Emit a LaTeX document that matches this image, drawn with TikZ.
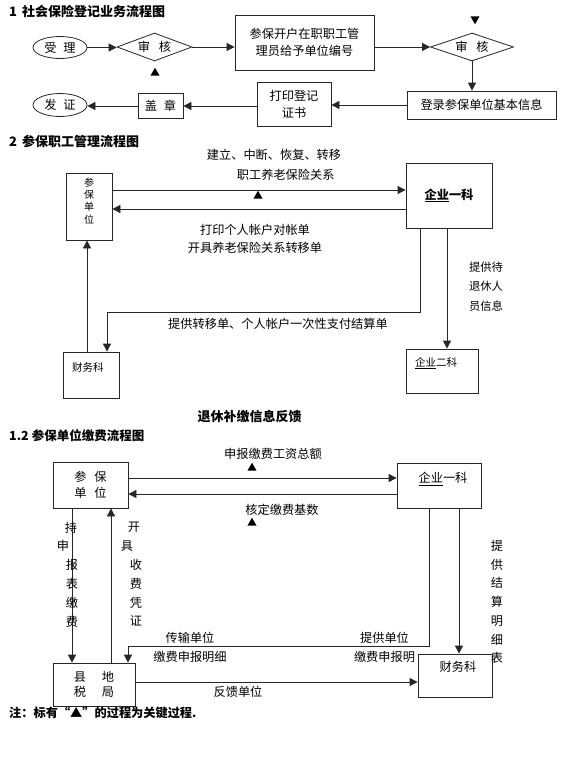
\documentclass[tikz,border=0pt]{standalone}
\usepackage{fontspec}
\setmainfont{Noto Sans CJK SC}
\usetikzlibrary{arrows.meta,shapes.geometric}
\newcommand{\myfs}[2]{\fontsize{#1}{#2}\selectfont}
\newcommand{\shl}[2]{\rlap{\hspace*{#1}#2}\phantom{#2}}
\begin{document}
\begin{tikzpicture}[x=1pt,y=-1pt,
  ln/.style={draw=black!85, line width=0.8pt},
  arr/.style={ln, -{Triangle[length=8pt,width=8pt]}},
  box/.style={draw=black!85, line width=0.8pt, inner sep=0pt, align=center, font=\myfs{12.2}{17}},
  ell/.style={ellipse, draw=black!85, line width=0.8pt, inner sep=0pt, font=\myfs{12.2}{14}},
  dia/.style={diamond, draw=black!85, line width=0.8pt, inner sep=0pt, aspect=2.7, font=\myfs{12.2}{14}},
  mk/.style={regular polygon, regular polygon sides=3, fill=black, inner sep=0pt, minimum size=10.5pt},
  mkdown/.style={mk, shape border rotate=180},
  ttl/.style={font=\bfseries\myfs{13}{16}, anchor=west, inner sep=0pt},
  lbl/.style={inner sep=0pt, align=center, font=\myfs{12.2}{19}},
  sml/.style={inner sep=0pt, align=center, font=\myfs{10.5}{12.5}}
]
\useasboundingbox[fill=white] (0,0) rectangle (567,763);

% ---------- Section 1 ----------
\node[ttl] (t1) at (9,11) {1\hspace{5pt}社会保险登记业务流程图};
\node[ell, minimum width=54pt, minimum height=22pt] (shouli) at (60,47.5) {受\hspace{7pt}理};
\node[dia, minimum width=75pt, minimum height=28pt] (sh1) at (154.5,47) {审\hspace{9pt}核};
\node[mk] (m1) at (155,73) {};
\node[box, minimum width=139pt, minimum height=55pt] (kaihu) at (304.5,42.5) {参保开户在职职工管\\理员给予单位编号};
\node[dia, minimum width=83pt, minimum height=28pt] (sh2) at (472,47) {审\hspace{9pt}核};
\node[mkdown] (m2) at (475,19) {};
\node[box, minimum width=149pt, minimum height=28pt] (denglu) at (481.5,105) {登录参保单位基本信息};
\node[box, minimum width=74pt, minimum height=44pt] (dayin) at (294,104) {打印登记\\证书};
\node[box, minimum width=45pt, minimum height=25pt] (gaizhang) at (160.5,106) {盖\hspace{7pt}章};
\node[ell, minimum width=54pt, minimum height=23pt] (fazheng) at (60,105) {发\hspace{7pt}证};

\draw[arr] (shouli.east) -- (shouli.east -| sh1.west);
\draw[arr] (sh1.east) -- (sh1.east -| kaihu.west);
\draw[arr] (sh1.east -| kaihu.east) -- (sh2.west);
\draw[arr] (sh2.south) -- (sh2.south |- denglu.north);
\draw[arr] (denglu.west) -- (denglu.west -| dayin.east);
\draw[arr] (gaizhang.east -| dayin.west) -- (gaizhang.east);
\draw[arr] (gaizhang.west) -- (gaizhang.west -| fazheng.east);

% ---------- Section 2 ----------
\node[ttl] (t2) at (9,141) {2\hspace{5pt}参保职工管理流程图};
\node[box, minimum width=46pt, minimum height=67pt] (cb2) at (89,206.5) {};
\node[sml, font=\myfs{10}{12.3}] (cb2t) at (89,201) {参\\保\\单\\位};
\node[box, minimum width=86pt, minimum height=65pt, font=\bfseries\myfs{12.2}{14}] (qy1) at (449,195.5) {\underline{企业}一科};
\coordinate (yA) at (0,190);
\coordinate (yB) at (0,209);
\draw[arr] (cb2.east |- yA) -- (qy1.west |- yA);
\draw[arr] (qy1.west |- yB) -- (cb2.east |- yB);
\node[lbl, align=left, font=\myfs{12.2}{20}] (l21) at (274,165) {建立、中断、恢复、转移\\\hspace*{30pt}职工养老保险关系};
\node[mk] (m3) at (258,196) {};
\node[lbl, font=\myfs{12.2}{18}] (l22) at (255,239) {打印个人帐户对帐单\\开具养老保险关系转移单};

\node[box, minimum width=56pt, minimum height=46pt] (caiwu2) at (91,375) {};
\node[sml, anchor=west] (caiwu2t) at (72,367) {财务科};
\node[box, minimum width=72pt, minimum height=44pt] (qy2) at (442,371) {};
\node[sml, anchor=west] (qy2t) at (415,363) {\underline{企业}二科};

\coordinate (xD) at (420,0);
\coordinate (yE) at (0,312);
\coordinate (xF) at (107,0);
\draw[arr] (qy1.south -| xD) |- (xF |- yE) -- (xF |- caiwu2.north);
\coordinate (xG) at (447,0);
\draw[arr] (qy1.south -| xG) -- (qy2.north -| xG);
\coordinate (xH) at (87,0);
\draw[arr] (caiwu2.north -| xH) -- (cb2.south -| xH);

\node[lbl, align=left, font=\myfs{11.3}{19.5}] (l23) at (486,286.5) {提供待\\退休人\\员信息};
\node[lbl] (l24) at (278,324) {提供转移单、个人帐户一次性支付结算单};

\node[lbl, font=\bfseries\myfs{13}{16}] (fk) at (249.5,417) {退休补缴信息反馈};

% ---------- Section 3 ----------
\node[ttl, font=\bfseries\myfs{12.5}{16}] (t3) at (9,436) {1.2\hspace{3pt}参保单位缴费流程图};
\node[box, minimum width=75pt, minimum height=46pt, font=\myfs{12.2}{16}] (cb3) at (90.5,485) {参\hspace{8pt}保\\单\hspace{8pt}位};
\node[box, minimum width=84pt, minimum height=45pt] (qy3) at (439,485.5) {};
\node[lbl] (qy3t) at (443,479) {\underline{企业}一科};
\coordinate (yI) at (0,478);
\coordinate (yJ) at (0,494);
\draw[arr] (cb3.east |- yI) -- (qy3.west |- yI);
\draw[arr] (qy3.west |- yJ) -- (cb3.east |- yJ);
\node[lbl] (l31) at (273,454) {申报缴费工资总额};
\node[mk] (m4) at (252,468) {};
\node[lbl] (l32) at (282,510) {核定缴费基数};
\node[mk] (m5) at (252,523) {};

\node[box, minimum width=82pt, minimum height=43pt, font=\myfs{12.2}{15}] (xds) at (94,684.5) {县\hspace{16pt}地\\税\hspace{16pt}局};
\coordinate (xK) at (72,0);
\coordinate (xL) at (111,0);
\draw[arr] (cb3.south -| xK) -- (xds.north -| xK);
\draw[arr] (xds.north -| xL) -- (cb3.south -| xL);
\node[lbl, font=\myfs{12.2}{18.8}] (l33) at (72,574.5) {\shl{-1pt}{持}\\\shl{-9pt}{申}\\报\\表\\缴\\费};
\node[lbl, font=\myfs{12.2}{18.8}] (l34) at (136,574.5) {\shl{-2pt}{开}\\\shl{-9pt}{具}\\收\\费\\凭\\证};

\node[box, minimum width=74pt, minimum height=43pt] (cw3) at (455,675.5) {};
\node[lbl] (cw3t) at (458,667) {财务科};

\coordinate (xM) at (429,0);
\coordinate (yO) at (0,646);
\coordinate (xN) at (128,0);
\draw[arr] (qy3.south -| xM) |- (xN |- yO) -- (xN |- xds.north);
\coordinate (xP) at (459,0);
\draw[arr] (qy3.south -| xP) -- (cw3.north -| xP);
\coordinate (yQ) at (0,682);
\draw[arr] (xds.east |- yQ) -- (cw3.west |- yQ);

\node[lbl] (l35) at (190,647.5) {传输单位\\缴费申报明细};
\node[lbl] (l36) at (384.5,647.5) {提供单位\\缴费申报明};
\node[lbl, font=\myfs{12.2}{18.7}] (l37) at (497,602) {提\\供\\结\\算\\明\\细\\表};
\node[lbl] (l38) at (238,692) {反馈单位};

\node[ttl, font=\bfseries\myfs{12.2}{16}] (note) at (9,713) {注：标有“▲”的过程为关键过程.};
\end{tikzpicture}
\end{document}
